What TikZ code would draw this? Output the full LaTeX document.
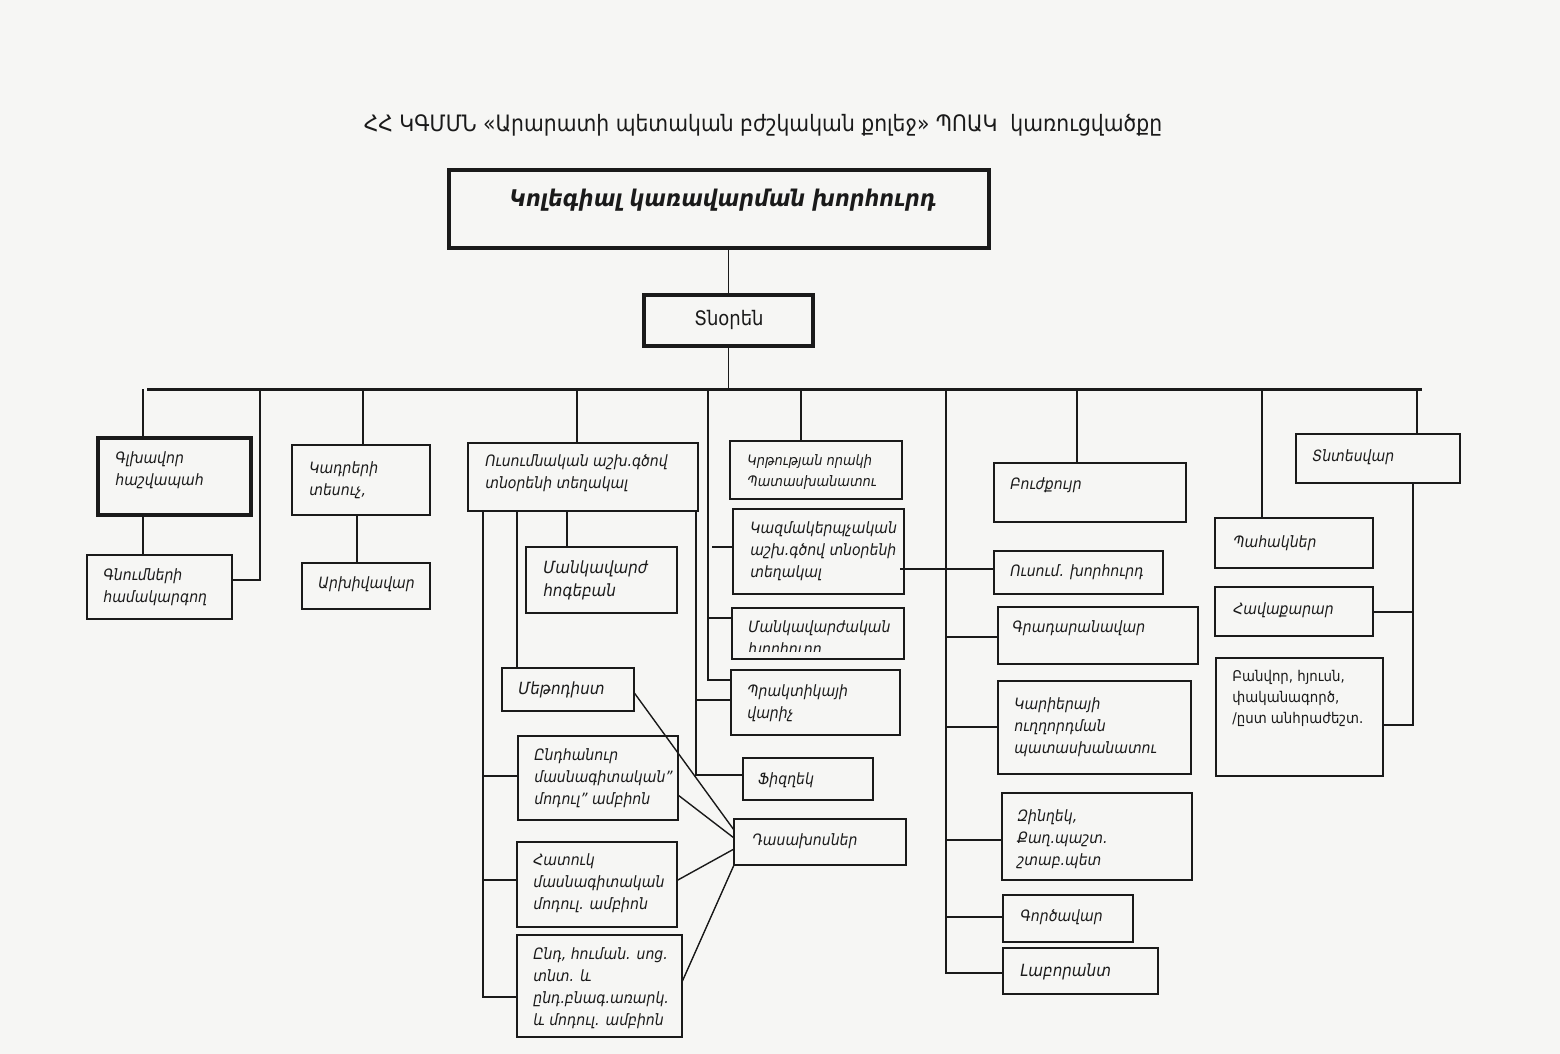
\documentclass[tikz,border=0pt]{standalone}
\usepackage{fontspec}
\setmainfont{DejaVu Sans}[FakeStretch=0.9]
\definecolor{ink}{HTML}{1A1A1A}
\definecolor{paper}{HTML}{F6F6F4}
\newcommand\orgbox[6][]{\node[boxst,#1,minimum width={(#5-#3)*0.5pt},minimum height={(#6-#4)*0.5pt}] (#2) at (#3,#4) {};}
\newcommand\orgtxt[5][]{\node[txt,#1] (#2) at (#3,#4) {#5};}
\begin{document}
\begin{tikzpicture}[x=0.5pt,y=-0.5pt,
  boxst/.style={draw=ink,line width=1pt,inner sep=0pt,outer sep=0pt,anchor=north west},
  thickbox/.style={line width=1.8pt},
  conn/.style={draw=ink,line width=0.7pt},
  bus/.style={draw=ink,line width=1.5pt},
  txt/.style={inner sep=0pt,align=left,anchor=west,text=ink,font=\itshape\fontsize{7.8}{11}\selectfont},
  small/.style={font=\itshape\fontsize{7.2}{10.5}\selectfont},
  big/.style={font=\itshape\fontsize{8.4}{11.5}\selectfont},
  upr/.style={font=\fontsize{7.4}{10.5}\selectfont}]
\fill[paper] (0,0) rectangle (1560,1054);
\useasboundingbox (0,0) rectangle (1560,1054);
% title
\node[inner sep=0pt,text=ink,font=\fontsize{11.3}{13}\selectfont] (title) at (763,125) {ՀՀ ԿԳՄՄՆ «Արարատի պետական բժշկական քոլեջ» ՊՈԱԿ\ \ կառուցվածքը};
% boxes
\orgbox[line width=2pt]{top}{449}{170}{989}{248}
\orgbox[thickbox]{dir}{644}{295}{813}{346}
\orgbox[thickbox]{gl}{98}{438}{251}{515}
\orgbox{gn}{87}{555}{232}{619}
\orgbox{kad}{292}{445}{430}{515}
\orgbox{arx}{302}{563}{430}{609}
\orgbox{usu}{468}{443}{698}{511}
\orgbox{mh}{526}{547}{677}{613}
\orgbox{met}{502}{668}{634}{711}
\orgbox{ynd}{518}{736}{678}{820}
\orgbox{hat}{517}{842}{677}{927}
\orgbox{yndh}{517}{935}{682}{1037}
\orgbox{krt}{730}{441}{902}{499}
\orgbox{kazm}{733}{509}{904}{594}
\orgbox{mkh}{732}{608}{904}{659}
\orgbox{prak}{731}{670}{900}{735}
\orgbox{fiz}{743}{758}{873}{800}
\orgbox[line width=1.3pt]{das}{734}{819}{906}{865}
\orgbox{buj}{994}{463}{1186}{522}
\orgbox{usk}{994}{551}{1163}{594}
\orgbox{grad}{998}{607}{1198}{664}
\orgbox{kar}{998}{681}{1191}{774}
\orgbox{zin}{1002}{793}{1192}{880}
\orgbox{gorc}{1003}{895}{1133}{942}
\orgbox{lab}{1003}{948}{1158}{994}
\orgbox{tnt}{1296}{434}{1460}{483}
\orgbox{pah}{1215}{518}{1373}{568}
\orgbox{hav}{1215}{587}{1373}{636}
\orgbox{ban}{1216}{658}{1383}{776}
% texts
\node[inner sep=0pt,text=ink,font=\bfseries\itshape\fontsize{11.5}{14}\selectfont] (top-t) at (723,200) {Կոլեգիալ կառավարման խորհուրդ};
\node[inner sep=0pt,text=ink,font=\fontsize{10}{11}\selectfont] (dir-t) at (729,320) {Տնօրեն};
\orgtxt{gl-t}{115}{470}{Գլխավոր\\հաշվապահ}
\orgtxt{gn-t}{103}{587}{Գնումների\\համակարգող}
\orgtxt{kad-t}{309}{480}{Կադրերի\\տեսուչ,}
\orgtxt{arx-t}{318}{584}{Արխիվավար}
\orgtxt{usu-t}{485}{473}{Ուսումնական աշխ.գծով\\տնօրենի տեղակալ}
\orgtxt[big]{mh-t}{543}{580}{Մանկավարժ\\հոգեբան}
\orgtxt[big]{met-t}{518}{690}{Մեթոդիստ}
\orgtxt{ynd-t}{534}{778}{Ընդհանուր\\մասնագիտական"\\մոդուլ" ամբիոն}
\orgtxt{hat-t}{533}{883}{Հատուկ\\մասնագիտական\\մոդուլ. ամբիոն}
\orgtxt{yndh-t}{533}{988}{Ընդ, հուման. սոց.\\տնտ. և\\ընդ.բնագ.առարկ.\\և մոդուլ. ամբիոն}
\orgtxt[small]{krt-t}{747}{472}{Կրթության որակի\\Պատասխանատու}
\orgtxt{kazm-t}{750}{551}{Կազմակերպչական\\աշխ.գծով տնօրենի\\տեղակալ}
\begin{scope}
\clip (733,609) rectangle (903,651);
\orgtxt{mkh-t}{748}{639}{Մանկավարժական\\խորհուրդ}
\end{scope}
\orgtxt{prak-t}{747}{703}{Պրակտիկայի\\վարիչ}
\orgtxt{fiz-t}{758}{780}{Ֆիզղեկ}
\orgtxt{das-t}{752}{841}{Դասախոսներ}
\orgtxt{buj-t}{1010}{485}{Բուժքույր}
\orgtxt{usk-t}{1010}{572}{Ուսում. խորհուրդ}
\orgtxt{grad-t}{1012}{628}{Գրադարանավար}
\orgtxt{kar-t}{1014}{727}{Կարիերայի\\ուղղորդման\\պատասխանատու}
\orgtxt{zin-t}{1017}{839}{Զինղեկ,\\Քաղ.պաշտ.\\շտաբ.պետ}
\orgtxt{gorc-t}{1020}{917}{Գործավար}
\orgtxt[big]{lab-t}{1020}{972}{Լաբորանտ}
\orgtxt{tnt-t}{1312}{457}{Տնտեսվար}
\orgtxt{pah-t}{1233}{543}{Պահակներ}
\orgtxt{hav-t}{1233}{610}{Հավաքարար}
\orgtxt[upr]{ban-t}{1232}{698}{Բանվոր, հյուսն,\\փականագործ,\\/ըստ անհրաժեշտ.}
% top connectors
\coordinate (busL) at (147,389);
\coordinate (busR) at (1422,389);
\draw[conn] (top.south -| dir.north) -- (dir.north);
\draw[conn] (dir.south) -- (dir.south |- busL);
\draw[bus] (busL) -- (busR);
% drops
\coordinate (c1) at (143,389);
\draw[conn] (c1) -- (c1 |- gl.north);
\draw[conn] (gl.south -| c1) -- (gn.north -| c1);
\coordinate (c2) at (260,389);
\coordinate (c2b) at (260,580);
\draw[conn] (c2) -- (c2b) -- (c2b -| gn.east);
\coordinate (c3) at (363,389);
\draw[conn] (c3) -- (c3 |- kad.north);
\coordinate (ka) at (357,515);
\draw[conn] (ka) -- (ka |- arx.north);
\coordinate (c4) at (577,389);
\draw[conn] (c4) -- (c4 |- usu.north);
\coordinate (c5) at (708,389);
\coordinate (c5b) at (708,680);
\draw[conn] (c5) -- (c5b) -- (c5b -| prak.west);
\coordinate (c5k) at (712,547);
\draw[conn] (c5k) -- (c5k -| kazm.west);
\coordinate (c5m) at (708,618);
\draw[conn] (c5m) -- (c5m -| mkh.west);
\coordinate (c6) at (801,389);
\draw[conn] (c6) -- (c6 |- krt.north);
\coordinate (c7) at (946,389);
\coordinate (c7b) at (946,973);
\draw[conn] (c7) -- (c7b) -- (c7b -| lab.west);
\coordinate (c7g) at (946,637);
\draw[conn] (c7g) -- (c7g -| grad.west);
\coordinate (c7k) at (946,727);
\draw[conn] (c7k) -- (c7k -| kar.west);
\coordinate (c7z) at (946,840);
\draw[conn] (c7z) -- (c7z -| zin.west);
\coordinate (c7o) at (946,917);
\draw[conn] (c7o) -- (c7o -| gorc.west);
\coordinate (kz) at (900,569);
\draw[conn] (kz) -- (kz -| usk.west);
\coordinate (c8) at (1077,389);
\draw[conn] (c8) -- (c8 |- buj.north);
\coordinate (c9) at (1262,389);
\draw[conn] (c9) -- (c9 |- pah.north);
\coordinate (c10) at (1417,389);
\draw[conn] (c10) -- (c10 |- tnt.north);
\coordinate (t1) at (1413,483);
\coordinate (t2) at (1413,725);
\draw[conn] (t1) -- (t2) -- (t2 -| ban.east);
\coordinate (t3) at (1413,612);
\draw[conn] (t3) -- (t3 -| hav.east);
% left group under usu
\coordinate (u1) at (483,511);
\coordinate (u1b) at (483,997);
\draw[conn] (u1) -- (u1b) -- (u1b -| yndh.west);
\coordinate (u1c) at (483,776);
\draw[conn] (u1c) -- (u1c -| ynd.west);
\coordinate (u1d) at (483,880);
\draw[conn] (u1d) -- (u1d -| hat.west);
\coordinate (u2) at (517,511);
\draw[conn] (u2) -- (u2 |- met.north);
\coordinate (u3) at (567,511);
\draw[conn] (u3) -- (u3 |- mh.north);
\coordinate (u4) at (696,511);
\coordinate (u4b) at (696,775);
\draw[conn] (u4) -- (u4b) -- (u4b -| fiz.west);
\coordinate (u4p) at (696,700);
\draw[conn] (u4p) -- (u4p -| prak.west);
% lecturers
\draw[conn] ([yshift=-1.5pt]met.east) -- ([yshift=6pt]das.west);
\draw[conn] ([yshift=-8.5pt]ynd.east) -- ([yshift=2pt]das.west);
\draw[conn] ([yshift=2pt]hat.east) -- ([yshift=-3.5pt]das.west);
\draw[conn] ([yshift=2pt]yndh.east) -- (das.south west);
\end{tikzpicture}
\end{document}
